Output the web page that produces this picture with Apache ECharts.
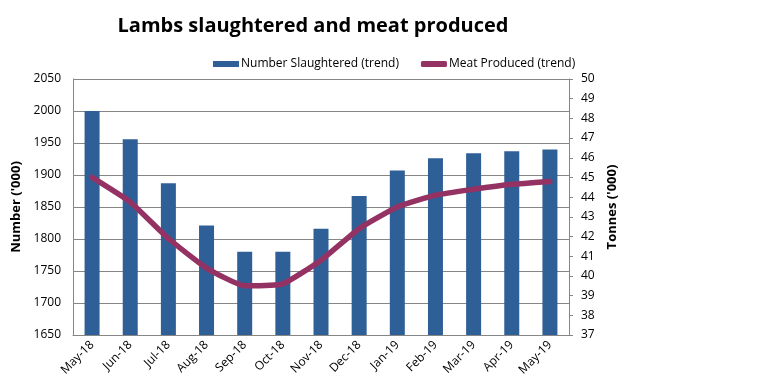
<!DOCTYPE html>
<html><head><meta charset="utf-8">
<script src="https://cdn.jsdelivr.net/npm/echarts@6/dist/echarts.min.js"></script>
<style>html,body{margin:0;padding:0;background:#fff}#c{width:777px;height:389px}</style>
</head><body><div id="c"></div>
<script>
const categories = ['May-18','Jun-18','Jul-18','Aug-18','Sep-18','Oct-18','Nov-18','Dec-18','Jan-19','Feb-19','Mar-19','Apr-19','May-19'];
const numberSlaughtered = [2000, 1956, 1887, 1821, 1780, 1780, 1816, 1867, 1907, 1926, 1934, 1937, 1940];
const meatProduced = [45.0, 43.75, 41.9, 40.4, 39.5, 39.6, 40.8, 42.4, 43.5, 44.1, 44.4, 44.65, 44.8];

const font = 'Open Sans';
const chart = echarts.init(document.getElementById('c'));
chart.setOption({
  animation: false,
  title: {
    text: 'Lambs slaughtered and meat produced',
    left: 308, top: 11, textAlign: 'center',
    textStyle: {fontFamily: font, fontSize: 20, fontWeight: 'bold', color: '#000'}
  },
  legend: {
    top: 53, left: 208, itemGap: 22, itemWidth: 26, itemHeight: 6,
    textStyle: {fontFamily: font, fontSize: 12, color: '#000', padding: [0,0,0,-3]},
    data: [
      {name: 'Number Slaughtered (trend)', icon: 'rect'},
      {name: 'Meat Produced (trend)', icon: 'roundRect', itemStyle: {color: '#953264'}}
    ]
  },
  grid: {left: 73, right: 208, top: 79, bottom: 54},
  xAxis: {
    type: 'category', data: categories,
    axisLine: {lineStyle: {color: '#868686'}},
    axisTick: {show: false},
    axisLabel: {rotate: 45, fontFamily: font, fontSize: 12, color: '#000', margin: 8}
  },
  yAxis: [
    {
      type: 'value', min: 1650, max: 2050, interval: 50,
      name: "Number ('000)", nameLocation: 'middle', nameGap: 50, nameRotate: 90,
      nameTextStyle: {fontFamily: font, fontSize: 13, fontWeight: 'bold', color: '#000'},
      axisLine: {show: true, lineStyle: {color: '#868686'}},
      axisTick: {show: false},
      axisLabel: {fontFamily: font, fontSize: 12, color: '#000', margin: 12, formatter: v => String(v)},
      splitLine: {lineStyle: {color: '#868686'}}
    },
    {
      type: 'value', min: 37, max: 50, interval: 1,
      name: "Tonnes ('000)", nameLocation: 'middle', nameGap: 36, nameRotate: 90,
      nameTextStyle: {fontFamily: font, fontSize: 13, fontWeight: 'bold', color: '#000'},
      axisLine: {show: true, lineStyle: {color: '#868686'}},
      axisTick: {show: true, length: 4, inside: false, lineStyle: {color: '#868686'}},
      axisLabel: {fontFamily: font, fontSize: 12, color: '#000', margin: 12},
      splitLine: {show: false}
    }
  ],
  series: [
    {
      name: 'Number Slaughtered (trend)', type: 'bar', data: numberSlaughtered,
      yAxisIndex: 0, barWidth: 15, itemStyle: {color: '#2F5F97'}
    },
    {
      name: 'Meat Produced (trend)', type: 'line', data: meatProduced,
      yAxisIndex: 1, symbol: 'none', smooth: 0.15,
      lineStyle: {color: '#953264', width: 5.5, cap: 'round', join: 'round'},
      itemStyle: {color: '#953264'}
    }
  ]
});
</script></body></html>
